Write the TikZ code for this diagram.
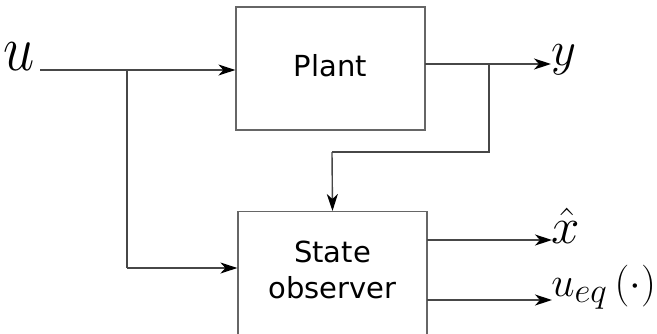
\documentclass[tikz,border=0pt]{standalone}
\usepackage{fontspec}
\setsansfont{DejaVu Sans}
\usetikzlibrary{arrows.meta,calc}
\begin{document}
\begin{tikzpicture}[x=1pt,y=1pt,
  wire/.style={draw=black!72, line width=1.4pt},
  arr/.style={wire, -{Stealth[length=17pt,width=11pt,inset=5pt,color=black]}},
  blk/.style={draw=black!60, line width=1.2pt, fill=white},
  lbl/.style={font=\sffamily\fontsize{29}{36}\selectfont, align=center, inner sep=0pt},
  mlbl/.style={inner sep=0pt, anchor=base west, font=\Huge}]
\useasboundingbox (0,0) rectangle (657,-333);
\clip (0,0) rectangle (657,-333);
% blocks
\node[blk, minimum width=189pt, minimum height=123pt, inner sep=0pt] (plant) at (330.5,-68.5) {};
\node[lbl] (plantt) at (330.5,-66) {Plant};
\node[blk, minimum width=189pt, minimum height=150pt, inner sep=0pt, anchor=north] (obs) at (332.5,-211) {};
\node[lbl] (obst) at (332.5,-270) {State\\observer};
% coordinates
\coordinate (uin) at (40,-70);
\coordinate (b1) at (127,-70);
\coordinate (b1d) at (127,-268);
\coordinate (pout) at (425,-64);
\coordinate (b2) at (489,-64);
\coordinate (b2d) at (489,-152);
\coordinate (b3) at (332,-152);
\coordinate (yend) at (551,-64);
\coordinate (xo) at (427,-240);
\coordinate (xend) at (552,-240);
\coordinate (uo) at (427,-300);
\coordinate (uend) at (552,-300);
% labels
\node[mlbl, anchor=base east, xscale=2.25, yscale=2.6] (ul) at (35,-70) {$u$};
\node[mlbl, scale=1.95] (yl) at (551,-65) {$y$};
\node[mlbl, scale=2.05] (xl) at (551,-243) {$\hat{x}$};
\node[mlbl, scale=1.68] (ueql) at (551,-296) {$u_{eq}\left(\cdot\right)$};
% wires
\draw[arr] (uin) -- (uin -| plant.west);
\draw[wire] (b1) -- (b1d);
\draw[arr] (b1d) -- (b1d -| obs.west);
\draw[arr] (pout) -- (yend);
\draw[wire] (b2) -- (b2d) -- (b3);
\draw[arr] (b3) -- (obs.north);
\draw[arr] (xo) -- (xend);
\draw[arr] (uo) -- (uend);
\end{tikzpicture}
\end{document}
